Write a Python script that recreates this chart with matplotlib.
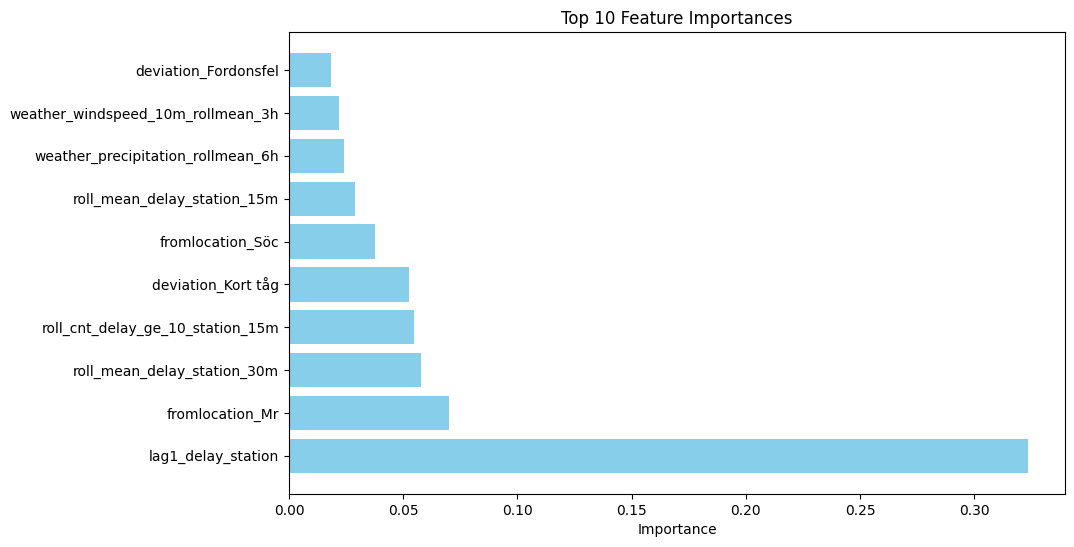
import matplotlib
matplotlib.use('Agg')
import matplotlib.pyplot as plt

# Feature names and importances, top-ranked first
features = [
    'lag1_delay_station',
    'fromlocation_Mr',
    'roll_mean_delay_station_30m',
    'roll_cnt_delay_ge_10_station_15m',
    'deviation_Kort tåg',
    'fromlocation_Söc',
    'roll_mean_delay_station_15m',
    'weather_precipitation_rollmean_6h',
    'weather_windspeed_10m_rollmean_3h',
    'deviation_Fordonsfel',
]
importances = [0.3236, 0.0700, 0.0578, 0.0547, 0.0525,
               0.0376, 0.0288, 0.0240, 0.0218, 0.0183]

fig = plt.figure(figsize=(10.74, 5.47), dpi=100)
ax = fig.add_axes([289 / 1074, 1 - 494 / 547, (1065 - 289) / 1074, (494 - 32) / 547])

ax.barh(features, importances, color='skyblue')
ax.set_xlabel('Importance')
ax.set_title('Top 10 Feature Importances')

fig.savefig('out.png', dpi=100)
